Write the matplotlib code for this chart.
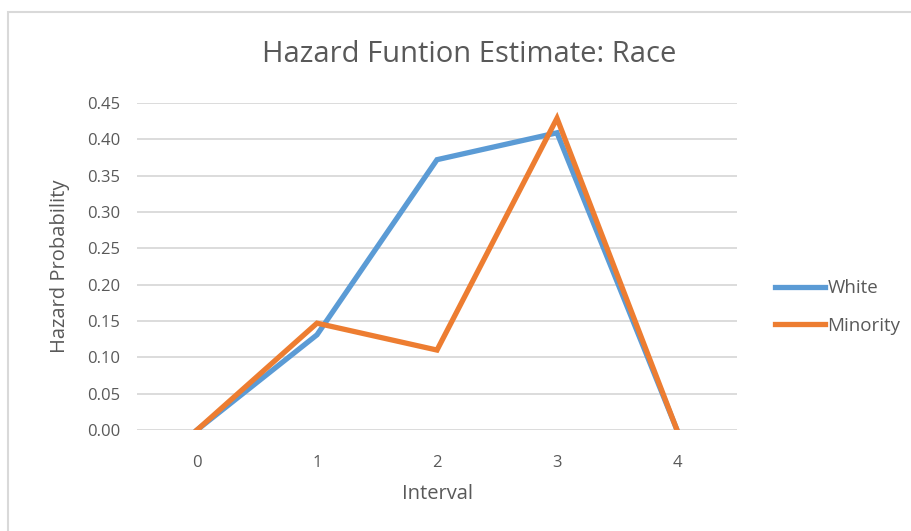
import matplotlib.pyplot as plt
from matplotlib.patches import Rectangle

# 数据
intervals = [0, 1, 2, 3, 4]
white = [0.0, 0.131, 0.372, 0.409, 0.0]
minority = [0.0, 0.147, 0.110, 0.429, 0.0]
yticks = [0.00, 0.05, 0.10, 0.15, 0.20, 0.25, 0.30, 0.35, 0.40, 0.45]

text_color = '#595959'
grid_color = '#d9d9d9'
plt.rcParams['font.family'] = ['Open Sans', 'DejaVu Sans']

fig = plt.figure(figsize=(9.12, 5.31), dpi=100)
ax = fig.add_axes([137 / 912, 101 / 531, 600 / 912, 327 / 531])

# 图表外框
fig.patches.append(Rectangle((8 / 912, -0.1), 1.2, (531 - 12) / 531 + 0.1,
                             transform=fig.transFigure, fill=False,
                             edgecolor=grid_color, linewidth=1.5))

ax.plot(intervals, white, color='#5b9bd5', linewidth=3.8, label='White',
        solid_joinstyle='miter', zorder=3)
ax.plot(intervals, minority, color='#ed7d31', linewidth=3.8, label='Minority',
        solid_joinstyle='miter', zorder=4)

ax.set_xlim(-0.5, 4.5)
ax.set_ylim(0, 0.45)
ax.set_xticks(intervals)
ax.set_yticks(yticks)
ax.set_yticklabels([f'{v:.2f}' for v in yticks])
ax.yaxis.grid(True, color=grid_color, linewidth=1.3)
ax.set_axisbelow(True)
for s in ax.spines.values():
    s.set_visible(False)
ax.tick_params(length=0, colors=text_color, labelsize=12)
ax.tick_params(axis='y', pad=12)
ax.tick_params(axis='x', pad=18)

fig.text(469 / 912, 1 - 55 / 531, 'Hazard Funtion Estimate: Race', color=text_color,
         fontsize=21, ha='center', va='center')
ax.set_xlabel('Interval', color=text_color, fontsize=14.5, va='center')
ax.xaxis.set_label_coords(0.5, (430 - 494) / 327)
ax.set_ylabel('Hazard Probability', color=text_color, fontsize=14.5, va='center')
ax.yaxis.set_label_coords((60 - 137) / 600, 0.5)

leg = ax.legend(loc='center left', bbox_to_anchor=(758 / 912, 1 - 307 / 531),
                bbox_transform=fig.transFigure, frameon=False, fontsize=13.5,
                handlelength=2.7, handletextpad=0.1, labelspacing=1.05,
                labelcolor=text_color)

fig.savefig('out.png', dpi=100)
